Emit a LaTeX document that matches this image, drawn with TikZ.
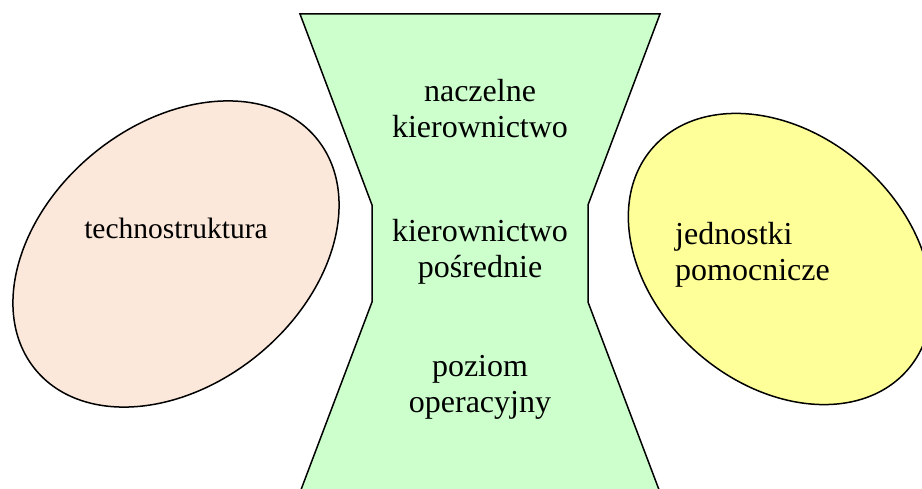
\documentclass[tikz,border=0pt]{standalone}
\usepackage{fontspec}
\setmainfont{Liberation Serif}
\begin{document}
\begin{tikzpicture}[x=1pt,y=1pt,
  outline/.style={draw=black,line width=1.5pt,line join=miter},
  label/.style={font=\fontsize{32}{36}\selectfont,inner sep=0pt,align=center}]
\useasboundingbox (0,0) rectangle (922,488);
\begin{scope}
  \clip (0,0) rectangle (922,488);
  % hourglass-shaped management core
  \draw[outline,fill=green!20] (300,474) -- (660,474) -- (588,283) -- (588,186)
    -- (661,-7) -- (299,-7) -- (372,186) -- (372,283) -- cycle;
  % tilted ellipses on both sides
  \draw[outline,fill={rgb,255:red,252;green,232;blue,218}]
    (176,234) ellipse[x radius=182,y radius=130,rotate=39.4];
  \draw[outline,fill={rgb,255:red,255;green,255;blue,153}]
    (780,229) ellipse[x radius=169,y radius=125,rotate=-41];
\end{scope}
\node[label] (top) at (480,379) {naczelne\\kierownictwo};
\node[label] (mid) at (480,236) {kierownictwo\\pośrednie};
\node[label] (bot) at (480,101) {poziom\\operacyjny};
\node[label,font=\fontsize{29.5}{35}\selectfont] (tech) at (176,260) {technostruktura};
\node[label,align=left,anchor=west] (aux) at (675,233) {jednostki\\pomocnicze};
\end{tikzpicture}
\end{document}
